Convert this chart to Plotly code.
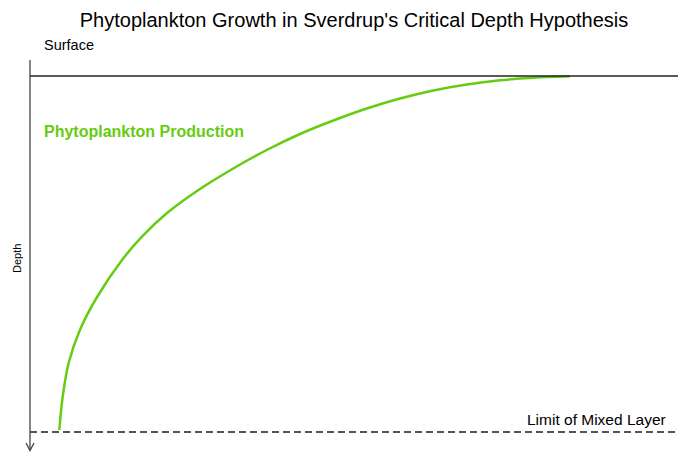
import plotly.graph_objects as go

# Data: phytoplankton production (relative, 0-100) vs depth (0 = surface, 100 = limit of mixed layer)
production = [4.52, 5.05, 5.95, 7.70, 10.26, 14.20, 17.28, 21.10, 26.23, 31.37,
              36.53, 41.67, 46.81, 51.96, 57.10, 62.24, 67.39, 72.53, 77.67, 83.33]
depth = [99.44, 90.08, 80.70, 71.35, 62.36, 51.69, 45.14, 38.57, 31.74, 25.98,
         20.79, 16.29, 12.50, 9.13, 6.32, 4.07, 2.39, 1.21, 0.51, 0.1]

surface_depth = 0
mixed_layer_depth = 100

title_text = "Phytoplankton Growth in Sverdrup's Critical Depth Hypothesis"
green = "#66cc11"
font_family = "Liberation Sans, Arial, sans-serif"

W, H = 694, 457
L, R, T, B = 30, 16, 60, 7
pw, ph = W - L - R, H - T - B


def px(x):
    return (x - L) / pw


def py(y):
    return (H - B - y) / ph


fig = go.Figure()
fig.add_trace(go.Scatter(
    x=production, y=depth, mode="lines",
    line=dict(color=green, width=2.5, shape="spline", smoothing=1.0),
    hoverinfo="skip", showlegend=False,
))

y_top = -16 / 3.56
y_bot = 374 / 3.56

fig.update_layout(
    width=W, height=H,
    margin=dict(l=L, r=R, t=T, b=B),
    paper_bgcolor="white", plot_bgcolor="white",
    font=dict(family=font_family, color="#000"),
    title=dict(text=title_text, x=0.5, xanchor="center", xref="paper",
               y=1 - 20 / H, yref="container", yanchor="middle",
               font=dict(size=20, color="#000", family=font_family)),
    xaxis=dict(range=[0, 100], visible=False, fixedrange=True),
    yaxis=dict(range=[y_bot, y_top], visible=False, fixedrange=True),
    showlegend=False,
)

# vertical depth axis line
fig.add_shape(type="line", xref="paper", yref="paper", x0=0, x1=0, y0=0, y1=1,
              line=dict(color="#444", width=1.3))
# arrowhead (open chevron)
fig.add_shape(type="path", xref="paper", yref="paper",
              path=f"M {px(26)} {py(443)} L {px(30)} {py(450.5)} L {px(34)} {py(443)}",
              line=dict(color="#444", width=1.3))
# surface line
fig.add_shape(type="line", xref="paper", yref="y", x0=0, x1=1,
              y0=surface_depth, y1=surface_depth, line=dict(color="#222", width=1.3))
# mixed layer dashed line
fig.add_shape(type="line", xref="paper", yref="y", x0=0, x1=1,
              y0=mixed_layer_depth, y1=mixed_layer_depth,
              line=dict(color="#555", width=2, dash="7px,4px"))

fig.add_annotation(text="Surface", xref="paper", yref="paper", x=px(42), y=py(45),
                   xanchor="left", yanchor="middle", showarrow=False,
                   font=dict(size=14.5, color="#000"))
fig.add_annotation(text="<b>Phytoplankton Production</b>", xref="paper", yref="paper",
                   x=px(42), y=py(131), xanchor="left", yanchor="middle", showarrow=False,
                   font=dict(size=16, color=green))
fig.add_annotation(text="Limit of Mixed Layer", xref="paper", yref="paper",
                   x=px(668), y=py(419), xanchor="right", yanchor="middle", showarrow=False,
                   font=dict(size=15.5, color="#000"))
fig.add_annotation(text="Depth", xref="paper", yref="paper", x=px(17), y=py(259),
                   xanchor="center", yanchor="middle", showarrow=False, textangle=-90,
                   font=dict(size=11, color="#000"))

fig.write_html("out.html")
